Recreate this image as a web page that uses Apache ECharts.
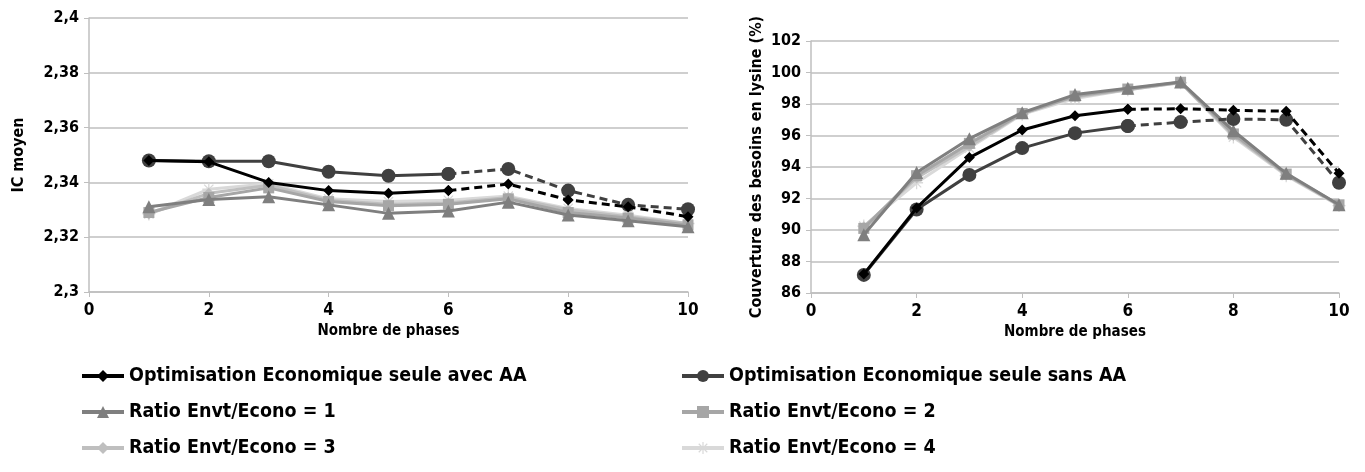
<!DOCTYPE html>
<html>
<head>
<meta charset="utf-8">
<script src="https://cdn.jsdelivr.net/npm/echarts@6/dist/echarts.min.js"></script>
<style>
  html, body { margin: 0; padding: 0; background: #fff; }
  #main { width: 1365px; height: 472px; }
</style>
</head>
<body>
<div id="main"></div>
<script>
var phases = [1, 2, 3, 4, 5, 6, 7, 8, 9, 10];
var xTicks = ['0', '2', '4', '6', '8', '10'];
var leftTicks = ['2,3', '2,32', '2,34', '2,36', '2,38', '2,4'];
var rightTicks = ['86', '88', '90', '92', '94', '96', '98', '100', '102'];

var names = [
	'Optimisation Economique seule avec AA',
	'Optimisation Economique seule sans AA',
	'Ratio Envt/Econo = 1',
	'Ratio Envt/Econo = 2',
	'Ratio Envt/Econo = 3',
	'Ratio Envt/Econo = 4'
];

// IC moyen (left)
var icAvecAA = [2.348, 2.3475, 2.340, 2.337, 2.336, 2.337, 2.3394, 2.3336, 2.3311, 2.3275];
var icSansAA = [2.348, 2.3477, 2.3477, 2.3439, 2.3424, 2.3431, 2.3449, 2.337, 2.3318, 2.3302];
var icRatio1 = [2.3311, 2.3338, 2.3348, 2.3318, 2.3287, 2.3296, 2.3328, 2.3281, 2.326, 2.3238];
var icRatio2 = [2.329, 2.3345, 2.338, 2.333, 2.3315, 2.332, 2.334, 2.329, 2.327, 2.3245];
var icRatio3 = [2.3285, 2.336, 2.339, 2.3335, 2.332, 2.3325, 2.3345, 2.330, 2.3275, 2.325];
var icRatio4 = [2.3285, 2.3375, 2.3395, 2.334, 2.333, 2.3335, 2.335, 2.3305, 2.328, 2.325];

// Couverture lysine (right)
var lysAvecAA = [87.2, 91.4, 94.6, 96.35, 97.25, 97.66, 97.7, 97.6, 97.54, 93.6];
var lysSansAA = [87.15, 91.3, 93.5, 95.2, 96.15, 96.6, 96.85, 97.05, 97.0, 93.0];
var lysRatio1 = [89.7, 93.65, 95.8, 97.45, 98.6, 99.0, 99.4, 96.3, 93.6, 91.6];
var lysRatio2 = [90.1, 93.45, 95.5, 97.4, 98.5, 98.95, 99.38, 96.1, 93.55, 91.6];
var lysRatio3 = [90.2, 93.3, 95.3, 97.4, 98.45, 98.9, 99.36, 96.0, 93.5, 91.58];
var lysRatio4 = [90.25, 93.0, 95.2, 97.35, 98.35, 98.9, 99.35, 95.9, 93.45, 91.55];

var colors = ['#000000', '#404040', '#7f7f7f', '#a6a6a6', '#bfbfbf', '#d9d9d9'];
var asterisk = 'path://M9,0L11,0L11,7.6L16.4,2.2L17.8,3.6L12.4,9L20,9L20,11L12.4,11L17.8,16.4L16.4,17.8L11,12.4L11,20L9,20L9,12.4L3.6,17.8L2.2,16.4L7.6,11L0,11L0,9L7.6,9L2.2,3.6L3.6,2.2L9,7.6Z';
var symbols = ['diamond', 'circle', 'triangle', 'rect', 'diamond', asterisk];
var sizes = [11, 14, 13, 11, 11, 13];

var font = "'DejaVu Sans Condensed', sans-serif";

function pairs(vals, from, to) {
	var out = [];
	for (var i = 0; i < phases.length; i++) {
		if (i >= from && i <= to) out.push([phases[i], vals[i]]);
	}
	return out;
}

function makeSeries(idx, vals, axisIdx, dashFrom) {
	var list = [];
	var base = {
		name: names[idx],
		type: 'line',
		xAxisIndex: axisIdx,
		yAxisIndex: axisIdx,
		symbol: symbols[idx],
		symbolSize: sizes[idx],
		z: 10 - idx,
		itemStyle: { color: colors[idx] },
		lineStyle: { color: colors[idx], width: 3 }
	};
	if (dashFrom == null) {
		list.push(Object.assign({}, base, { data: pairs(vals, 0, 9) }));
	} else {
		list.push(Object.assign({}, base, { data: pairs(vals, 0, dashFrom) }));
		list.push(Object.assign({}, base, {
			data: pairs(vals, dashFrom, 9),
			lineStyle: { color: colors[idx], width: 3, type: [8, 5] }
		}));
	}
	return list;
}

function xAxis(gridIdx) {
	return {
		gridIndex: gridIdx,
		type: 'value',
		min: 0, max: 10, interval: 2,
		name: 'Nombre de phases',
		nameLocation: 'middle',
		nameGap: 30,
		nameTextStyle: { fontFamily: font, fontWeight: 'bold', fontSize: 15, color: '#000' },
		axisLine: { show: true, lineStyle: { color: '#bfbfbf', width: 1.5 } },
		axisTick: { show: true, length: 5, lineStyle: { color: '#bfbfbf' } },
		axisLabel: {
			fontFamily: font, fontWeight: 'bold', fontSize: 17, color: '#000', margin: 10,
			formatter: function (v) { return xTicks[v / 2]; }
		},
		splitLine: { show: false }
	};
}

function yAxis(gridIdx, min, max, interval, ticks, name, gap) {
	return {
		gridIndex: gridIdx,
		type: 'value',
		min: min, max: max, interval: interval,
		name: name,
		nameLocation: 'middle',
		nameGap: gap,
		nameTextStyle: { fontFamily: font, fontWeight: 'bold', fontSize: 16, color: '#000' },
		axisLine: { show: true, lineStyle: { color: '#bfbfbf', width: 1.5 } },
		axisTick: { show: true, length: 5, lineStyle: { color: '#bfbfbf' } },
		axisLabel: {
			fontFamily: font, fontWeight: 'bold', fontSize: 16, color: '#000', margin: 10,
			formatter: function (v) { return ticks[Math.round((v - min) / interval)]; }
		},
		splitLine: { show: true, lineStyle: { color: '#bfbfbf', width: 1.5 } }
	};
}

var series = []
	.concat(makeSeries(0, icAvecAA, 0, 5))
	.concat(makeSeries(1, icSansAA, 0, 5))
	.concat(makeSeries(2, icRatio1, 0))
	.concat(makeSeries(3, icRatio2, 0))
	.concat(makeSeries(4, icRatio3, 0))
	.concat(makeSeries(5, icRatio4, 0))
	.concat(makeSeries(0, lysAvecAA, 1, 5))
	.concat(makeSeries(1, lysSansAA, 1, 5))
	.concat(makeSeries(2, lysRatio1, 1))
	.concat(makeSeries(3, lysRatio2, 1))
	.concat(makeSeries(4, lysRatio3, 1))
	.concat(makeSeries(5, lysRatio4, 1));

// one legend per entry, two columns of three rows
var legendLeft = [80, 680, 80, 680, 80, 680];
var legendTop = [366, 366, 402, 402, 438, 438];
var legends = names.map(function (n, i) {
	return {
		data: [n],
		left: legendLeft[i], top: legendTop[i],
		padding: 0,
		itemWidth: 42, itemHeight: 15,
		itemGap: 0,
		lineStyle: { width: 4 },
		textStyle: { fontFamily: font, fontWeight: 'bold', fontSize: 19.5, color: '#000' }
	};
});

var myChart = echarts.init(document.getElementById('main'));
var option = {
	animation: false,
	backgroundColor: '#fff',
	grid: [
		{ left: 89, right: 677, top: 18, bottom: 180 },
		{ left: 811, right: 26, top: 41, bottom: 179 }
	],
	xAxis: [xAxis(0), xAxis(1)],
	yAxis: [
		yAxis(0, 2.3, 2.4, 0.02, leftTicks, 'IC moyen', 62),
		yAxis(1, 86, 102, 2, rightTicks, 'Couverture des besoins en lysine (%)', 46)
	],
	legend: legends,
	series: series
};
myChart.setOption(option);
</script>
</body>
</html>
